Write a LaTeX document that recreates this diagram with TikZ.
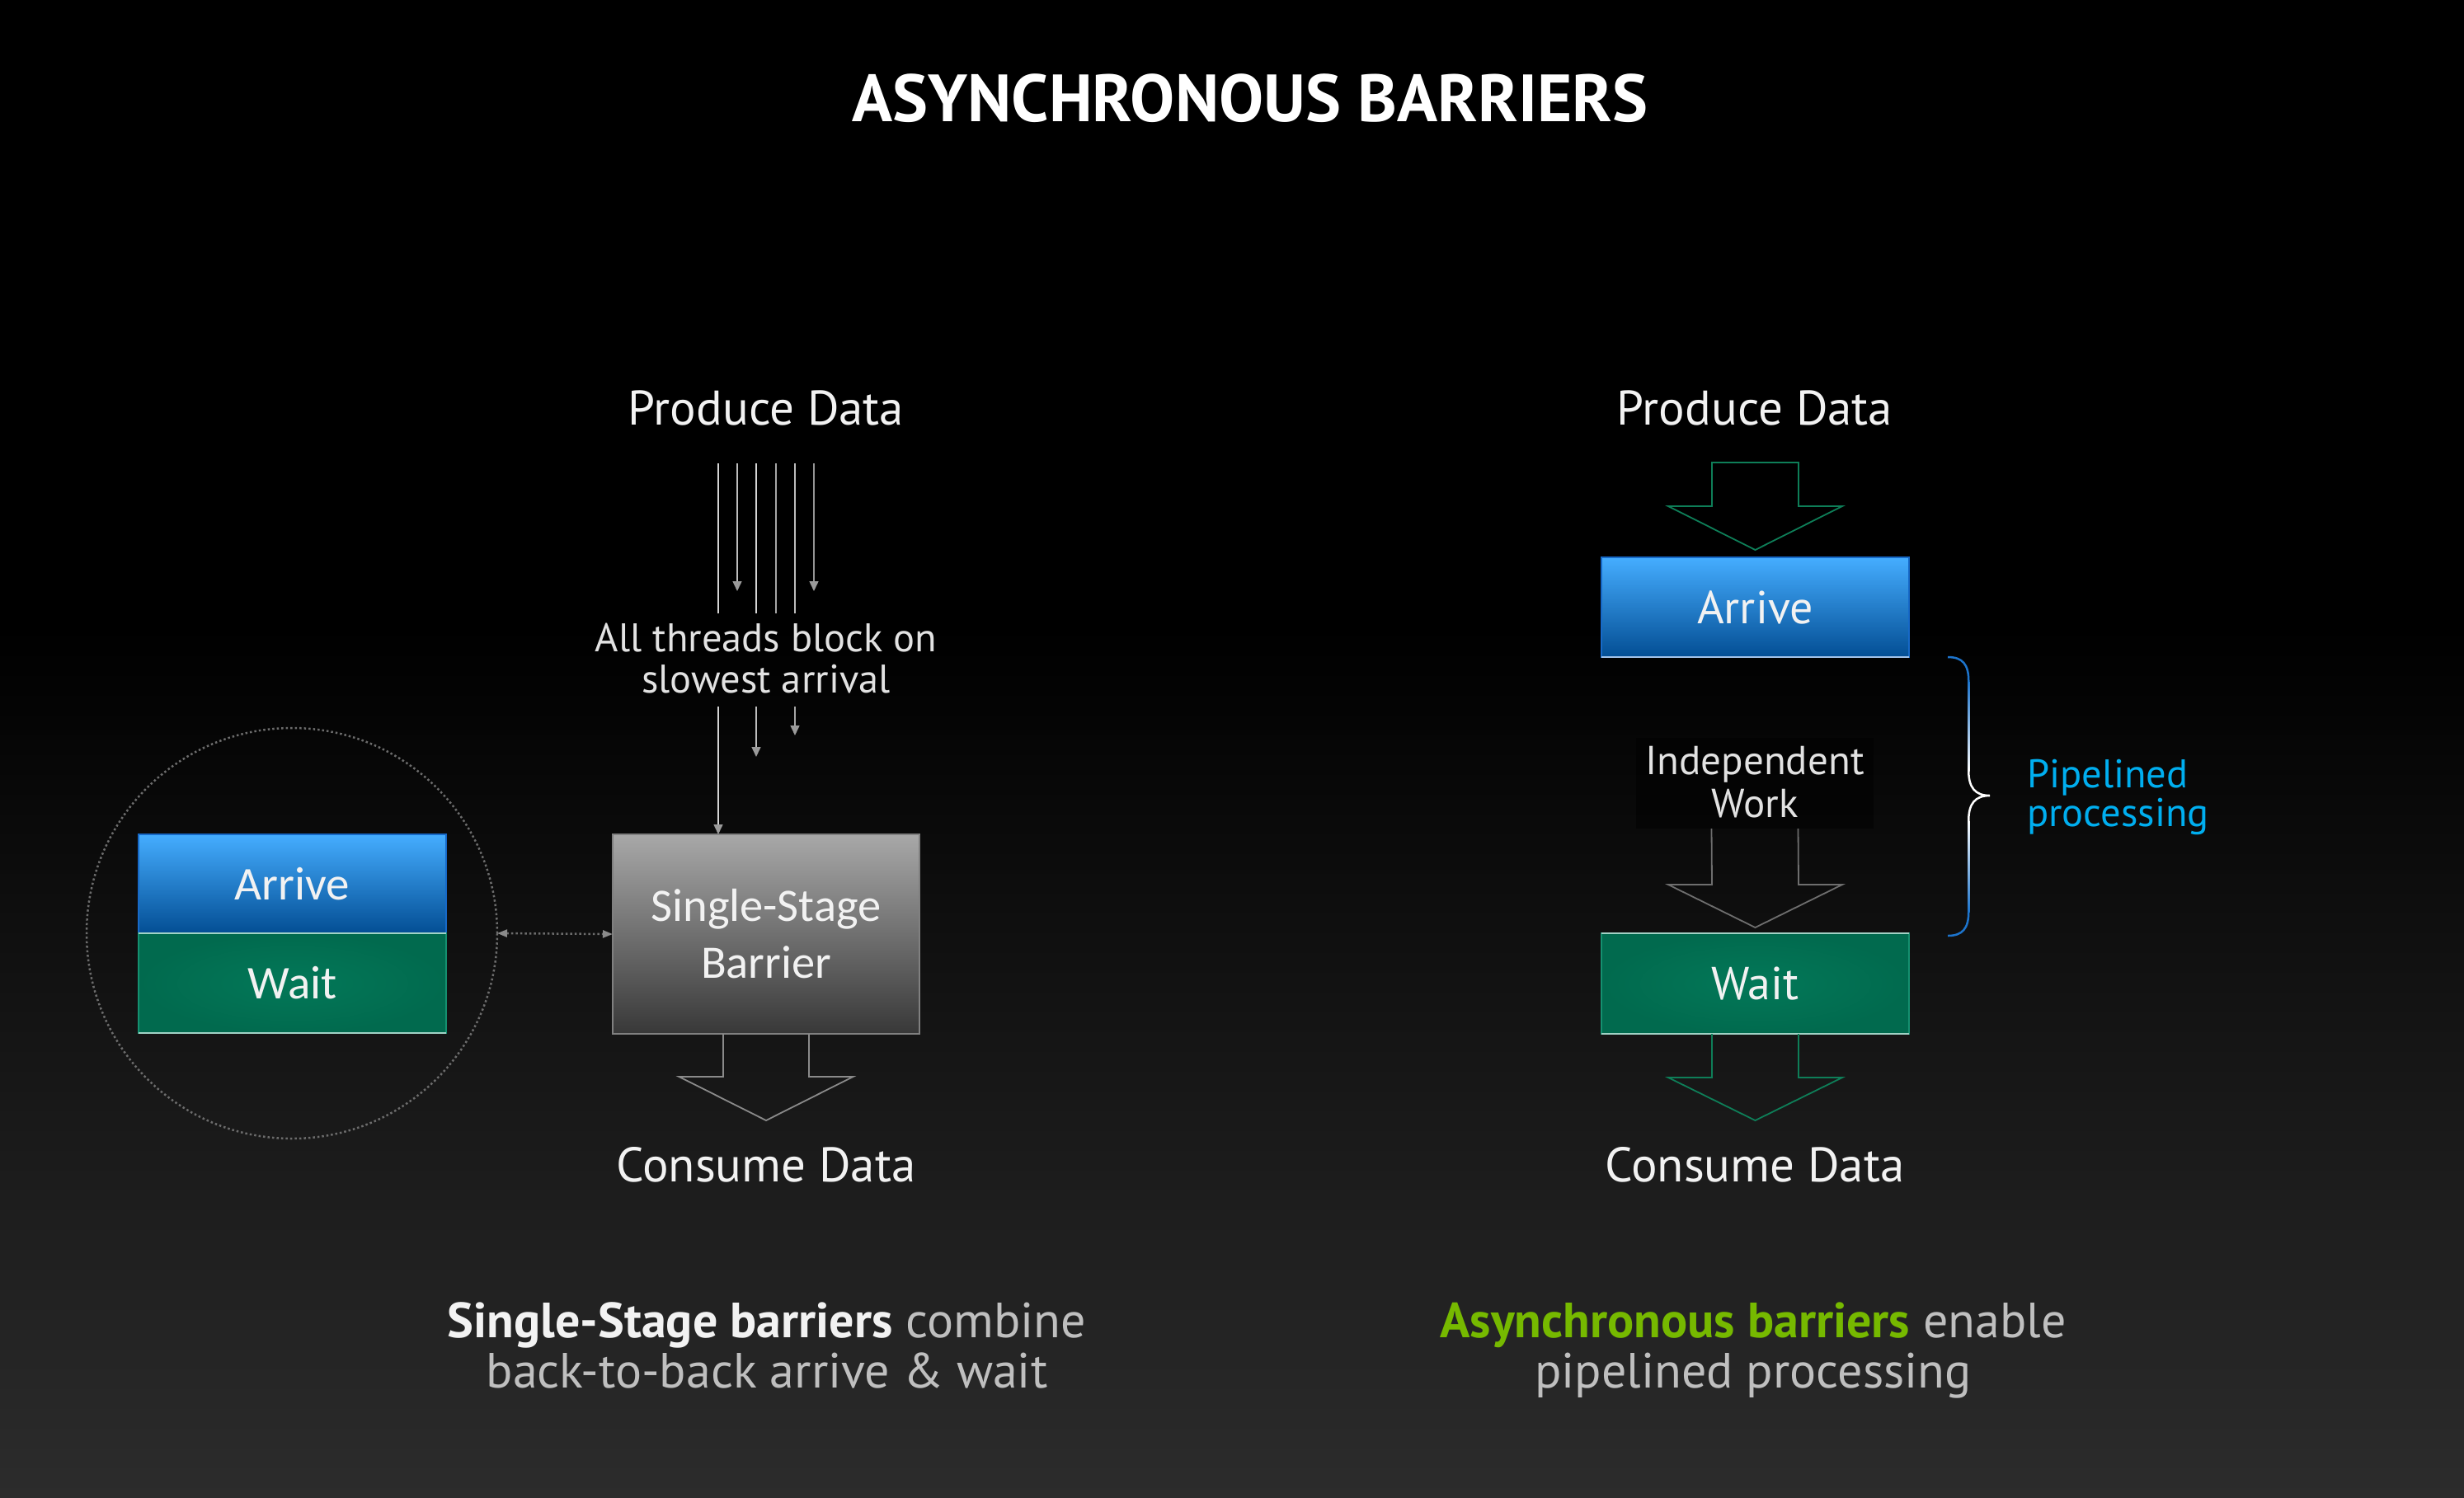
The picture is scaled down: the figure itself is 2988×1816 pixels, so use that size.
\documentclass[tikz,border=0pt]{standalone}
\usepackage{fontspec}
\setmainfont{PT Sans}
\newfontfamily\calfont{Carlito}
\usetikzlibrary{arrows.meta,calc}

\definecolor{bgbot}{HTML}{2C2C2C}
\definecolor{txt}{HTML}{F2F2F2}
\definecolor{txtdim}{HTML}{E2E2E2}
\definecolor{capgray}{HTML}{BFBFBF}
\definecolor{nvgreen}{HTML}{76B900}
\definecolor{pipecyan}{HTML}{00AEEF}
\definecolor{arrTop}{HTML}{45ADFF}
\definecolor{arrMid}{HTML}{0672D8}
\definecolor{arrBot}{HTML}{034E94}
\definecolor{arrEdge}{HTML}{1769C8}
\definecolor{waitIn}{HTML}{037858}
\definecolor{waitOut}{HTML}{016A4E}
\definecolor{waitEdge}{HTML}{159070}
\definecolor{barTop}{HTML}{A8A8A8}
\definecolor{barBot}{HTML}{383838}
\definecolor{barEdge}{HTML}{808080}
\definecolor{flowgreen}{HTML}{0E7E58}
\definecolor{flowgray}{HTML}{8A8A8A}
\definecolor{midgray}{HTML}{6E6E6E}
\definecolor{braceblue}{HTML}{1D74CC}
\definecolor{thA}{HTML}{D4D4D4}
\definecolor{thB}{HTML}{BDBDBD}
\definecolor{thC}{HTML}{A6A6A6}
\definecolor{thD}{HTML}{949494}
\definecolor{tipgray}{HTML}{9A9A9A}
\definecolor{dotgray}{HTML}{6C6C6C}

\begin{document}
\begin{tikzpicture}[x=1pt,y=-1pt,
  every node/.style={inner sep=0pt,outer sep=0pt},
  heading/.style={text=txt,font=\fontsize{59}{59}\selectfont},
  note/.style={text=txtdim,font=\fontsize{48.5}{48.5}\selectfont},
  boxbase/.style={minimum width=373pt,text=txt},
  arrivebox/.style={boxbase,top color=arrTop,middle color=arrMid,bottom color=arrBot,draw=arrEdge,line width=1.2pt},
  waitbox/.style={boxbase,inner color=waitIn,outer color=waitOut,draw=waitEdge,line width=1.2pt},
  barrierbox/.style={minimum width=372pt,minimum height=242pt,top color=barTop,bottom color=barBot,draw=barEdge,line width=1.5pt},
  rtext/.style={font=\fontsize{56}{56}\selectfont},
  ltext/.style={font=\calfont\fontsize{57}{57}\selectfont},
  bartext/.style={text=txt,font=\calfont\fontsize{56.5}{56.5}\selectfont},
  thread/.style={line width=1.5pt},
  tip/.style={-{Triangle[length=12pt,width=11pt,color=tipgray]}},
  dotline/.style={draw=dotgray,line width=2.5pt,dash pattern=on 2.5pt off 3pt},
  blockarrow/.style={line width=1.8pt,line join=miter},
  caption/.style={text=capgray,font=\fontsize{60}{60}\selectfont},
  pipe/.style={text=pipecyan,font=\fontsize{48.5}{48.5}\selectfont},
  indep/.style={text=txtdim,font=\fontsize{49}{49}\selectfont},
  edgehi/.style={line width=1.6pt,draw=white,draw opacity=0.6}
]
\useasboundingbox (0,0) rectangle (2988,1816);

% background: black fading to dark grey towards the bottom
\fill[black] (0,0) rectangle (2988,1816);
\shade[top color=black,bottom color=bgbot] (0,760) rectangle (2988,1816);

% title
\node[anchor=base,text=white,font=\fontsize{81}{81}\selectfont\bfseries] (title) at (1516,147) {ASYNCHRONOUS BARRIERS};

% ---------------- single-stage barrier ----------------
\node[heading,anchor=base] (lprod) at (929,515) {Produce Data};

\node[barrierbox] (barrier) at (929,1133) {};
\node[bartext,anchor=base] (bar1) at ($(barrier.center)+(0,-16)$) {Single-Stage};
\node[bartext,anchor=base] (bar2) at ($(barrier.center)+(0,53)$) {Barrier};

\node[note,anchor=base] (block1) at (929,790) {All threads block on};
\node[note,anchor=base] (block2) at (929,840) {slowest arrival};

% threads arriving
\coordinate (ta1) at (871,562); \coordinate (tb1) at (871,744);
\coordinate (ta2) at (894,562); \coordinate (tb2) at (894,717);
\coordinate (ta3) at (917,562); \coordinate (tb3) at (917,744);
\coordinate (ta4) at (941,562); \coordinate (tb4) at (941,744);
\coordinate (ta5) at (964,562); \coordinate (tb5) at (964,744);
\coordinate (ta6) at (987,562); \coordinate (tb6) at (987,717);
\draw[thread,thA] (ta1) -- (tb1);
\draw[thread,thB,tip] (ta2) -- (tb2);
\draw[thread,thA] (ta3) -- (tb3);
\draw[thread,thC] (ta4) -- (tb4);
\draw[thread,thB] (ta5) -- (tb5);
\draw[thread,thD,tip] (ta6) -- (tb6);

\coordinate (tc1) at (871,857);
\coordinate (tc3) at (917,857); \coordinate (td3) at (917,918);
\coordinate (tc5) at (964,857); \coordinate (td5) at (964,892);
\draw[thread,thA,tip] (tc1) -- (tc1 |- barrier.north);
\draw[thread,thB,tip] (tc3) -- (td3);
\draw[thread,thC,tip] (tc5) -- (td5);

% output arrow of the barrier
\draw[blockarrow,flowgray] ($(barrier.south)+(-52,0)$) -- ++(0,52) -- ++(-53.5,0)
  -- ($(barrier.south)+(0,105)$) -- ($(barrier.south)+(105.5,52)$) -- ++(-53.5,0) -- ++(0,-52);

\node[heading,anchor=base] (lcons) at (929,1433) {Consume Data};

% arrive + wait inside the dotted circle
\node[circle,dotline,minimum size=498pt] (circ) at (354,1132) {};
\node[arrivebox,minimum height=120pt] (larrive) at (354.5,1072) {};
\node[waitbox,minimum height=121pt] (lwait) at (354.5,1192.5) {};
\draw[edgehi] (larrive.south west) -- (larrive.south east);
\draw[edgehi] (lwait.south west) -- (lwait.south east);
\node[ltext,text=txt] (larrivet) at (larrive.center) {Arrive};
\node[ltext,text=txt] (lwaitt) at (lwait.center) {Wait};

\draw[dotline,{Triangle[length=12pt,width=9pt,color=flowgray]}-{Triangle[length=12pt,width=9pt,color=flowgray]}] (circ.east) -- (barrier.west);

% ---------------- asynchronous barrier ----------------
\node[heading,anchor=base] (rprod) at (2128,515) {Produce Data};

\node[arrivebox,minimum height=121pt] (rarrive) at (2128.5,736.5) {};
\draw[edgehi] (rarrive.south west) -- (rarrive.south east);
\node[rtext,text=txt] (rarrivet) at (rarrive.center) {Arrive};

\draw[blockarrow,flowgreen] ($(rarrive.north)+(-52.5,-115)$) -- ++(105,0) -- ++(0,53) -- ++(53,0)
  -- ($(rarrive.north)+(0,-9)$) -- ($(rarrive.north)+(-105.5,-62)$) -- ++(53,0) -- cycle;

\node[fill=black,fill opacity=0.45,minimum width=288pt,minimum height=110pt] (work) at (2128,950) {};
\node[indep,anchor=base] (work1) at (2128,939) {Independent};
\node[indep,anchor=base] (work2) at (2128,991.5) {Work};

\node[waitbox,minimum height=122pt] (rwait) at (2128.5,1193) {};
\draw[edgehi] (rwait.north west) -- (rwait.north east);
\draw[edgehi] (rwait.south west) -- (rwait.south east);
\node[rtext,text=txt] (rwaitt) at (rwait.center) {Wait};

% independent work between arrive and wait
\draw[blockarrow,midgray] ($(rarrive.south)+(-52.5,0)$) -- ($(rarrive.south)+(-52.5,0)$ |- work.north);
\draw[blockarrow,midgray] ($(rarrive.south)+(52.5,0)$) -- ($(rarrive.south)+(52.5,0)$ |- work.north);
\draw[blockarrow,midgray] ($(work.south)+(-52.5,0)$) -- ($(rwait.north)+(-52.5,-59)$) -- ++(-53,0)
  -- ($(rwait.north)+(0,-7)$) -- ($(rwait.north)+(105.5,-59)$) -- ++(-53,0) -- ($(work.south)+(52.5,0)$);

\draw[blockarrow,flowgreen] ($(rwait.south)+(-52.5,0)$) -- ++(0,53) -- ++(-53,0)
  -- ($(rwait.south)+(0,105)$) -- ($(rwait.south)+(105.5,53)$) -- ++(-53,0) -- ++(0,-53);

\node[heading,anchor=base] (rcons) at (2128,1433) {Consume Data};

% brace: blue tips, white centre
\shade[top color=braceblue,bottom color=white] (2386,826) rectangle (2388.5,935);
\shade[top color=white,bottom color=braceblue] (2386,995) rectangle (2388.5,1106);
\draw[braceblue,line width=2.5pt] (2362,797) .. controls (2380,797) and (2387.25,806) .. (2387.25,826);
\draw[white,line width=2.5pt] (2387.25,935) .. controls (2387.25,955) and (2395,965) .. (2413,965)
  .. controls (2395,965) and (2387.25,975) .. (2387.25,995);
\draw[braceblue,line width=2.5pt] (2387.25,1106) .. controls (2387.25,1126) and (2380,1135) .. (2362,1135);

\node[pipe,anchor=base west] (pipe1) at (2458,955) {Pipelined};
\node[pipe,anchor=base west] (pipe2) at (2458,1002) {processing};

% captions
\node[caption,anchor=base] (capL1) at (930,1622) {{\bfseries\color{txt}Single-Stage barriers} combine};
\node[caption,anchor=base] (capL2) at (930,1683) {back-to-back arrive \& wait};
\node[caption,anchor=base] (capR1) at (2126,1622) {{\bfseries\color{nvgreen}Asynchronous barriers} enable};
\node[caption,anchor=base] (capR2) at (2126,1683) {pipelined processing};
\end{tikzpicture}
\end{document}
